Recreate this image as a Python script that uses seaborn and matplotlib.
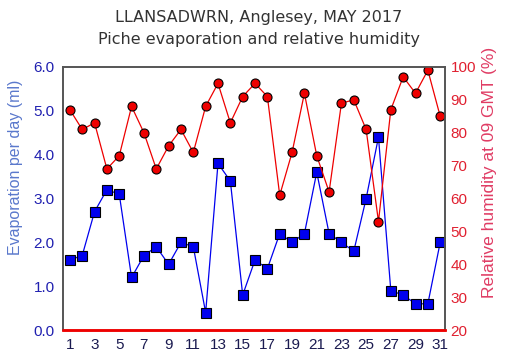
import numpy as np
import pandas as pd
import matplotlib
matplotlib.use("Agg")
import matplotlib.pyplot as plt
import seaborn as sns

# Daily data, Llansadwrn May 2017
days = list(range(1, 32))
evaporation = [1.6, 1.7, 2.7, 3.2, 3.1, 1.2, 1.7, 1.9, 1.5, 2.0,
               1.9, 0.4, 3.8, 3.4, 0.8, 1.6, 1.4, 2.2, 2.0, 2.2,
               3.6, 2.2, 2.0, 1.8, 3.0, 4.4, 0.9, 0.8, 0.6, 0.6, 2.0]
humidity = [87, 81, 83, 69, 73, 88, 80, 69, 76, 81,
            74, 88, 95, 83, 91, 95, 91, 61, 74, 92,
            73, 62, 89, 90, 81, 53, 87, 97, 92, 99, 85]
x_ticks = list(range(1, 32, 2))

df = pd.DataFrame({"day": days, "evap": evaporation, "rh": humidity})

sns.set_theme(style="white")
plt.rcParams["font.family"] = ["Liberation Sans", "DejaVu Sans"]

fig = plt.figure(figsize=(5.17, 3.60), dpi=100)
ax = fig.add_axes([0.122, 0.083, 0.739, 0.731])
ax2 = ax.twinx()

sns.lineplot(data=df, x="day", y="evap", ax=ax, color="#0000ee", linewidth=0.9,
             marker="s", markersize=7.5, markerfacecolor="#0000ee",
             markeredgecolor="black", markeredgewidth=0.8)
sns.lineplot(data=df, x="day", y="rh", ax=ax2, color="#ee0000", linewidth=0.9,
             marker="o", markersize=6.5, markerfacecolor="#ee0000",
             markeredgecolor="black", markeredgewidth=0.8)

ax.set_xlim(0.45, 31.4)
ax.set_ylim(0, 6)
ax2.set_ylim(20, 100)
ax.set_xticks(x_ticks)
ax.set_yticks(np.arange(0, 6.1, 1.0))
ax.set_yticklabels([f"{v:.1f}" for v in np.arange(0, 6.1, 1.0)])
ax2.set_yticks(range(20, 101, 10))

ax.tick_params(axis="x", length=0, pad=6, labelsize=11, labelcolor="#1a1a50")
ax.tick_params(axis="y", length=0, pad=6, labelsize=11, labelcolor="#2020b0")
ax2.tick_params(axis="y", length=0, pad=4, labelsize=11, labelcolor="#e02030")

ax.set_xlabel("")
ax.set_ylabel("Evaporation per day (ml)", color="#5a78cc", fontsize=11.5)
ax2.set_ylabel("Relative humidity at 09 GMT (%)", color="#e03c64", fontsize=12.5)
ax.yaxis.set_label_coords(-0.105, 0.62)
ax2.yaxis.set_label_coords(1.097, 0.6)

for a in (ax, ax2):
    for s in a.spines.values():
        s.set_color("#555555")
        s.set_linewidth(1.2)
    a.spines["bottom"].set_color("#ee0000")
    a.spines["bottom"].set_linewidth(1.8)
    a.grid(False)

fig.text(0.5, 0.952, "LLANSADWRN, Anglesey, MAY 2017", ha="center", va="center",
         fontsize=11.5, color="#333333", family="DejaVu Sans")
fig.text(0.5, 0.89, "Piche evaporation and relative humidity", ha="center", va="center",
         fontsize=11.5, color="#333333", family="DejaVu Sans")

plt.savefig("out.png", dpi=100)
